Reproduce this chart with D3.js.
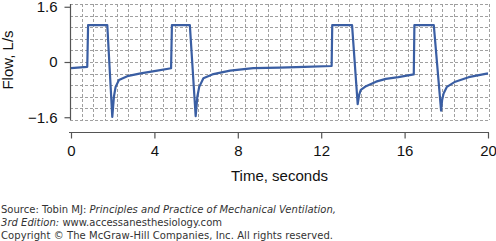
<!DOCTYPE html>
<html><head><meta charset="utf-8">
<script src="https://cdn.jsdelivr.net/npm/d3@7"></script>
<style>
html,body{margin:0;padding:0;background:#fff;}
svg{display:block;}
</style></head>
<body>
<svg id="c" width="496" height="241"></svg>
<script>
// Data (time in seconds, flow in L/s)
const timeS = [0, 0.78, 0.82, 1.74, 1.98, 2.06, 2.14, 2.3, 2.7, 3.34, 4.14, 4.8,
  4.84, 5.7, 5.98, 6.06, 6.15, 6.35, 6.83, 7.63, 8.74, 10.0, 11.2, 12.5,
  12.53, 13.48, 13.75, 13.82, 13.9, 14.15, 14.63, 15.1, 15.7, 16.44,
  16.47, 17.4, 17.75, 17.8, 17.87, 18.03, 18.43, 19.07, 20.0];
const flowLs = [-0.18, -0.14, 1.07, 1.07, -1.59, -1.0, -0.72, -0.52, -0.41, -0.33, -0.25, -0.18,
  1.07, 1.07, -1.57, -1.0, -0.72, -0.47, -0.35, -0.25, -0.18, -0.165, -0.14, -0.116,
  1.07, 1.07, -1.22, -0.95, -0.81, -0.70, -0.57, -0.49, -0.44, -0.36,
  1.07, 1.07, -1.41, -1.1, -0.91, -0.72, -0.57, -0.44, -0.33];
const xTicks = [0, 4, 8, 12, 16, 20];
const yTicks = [1.6, 0, -1.6];
const yLabel = "Flow, L/s";
const xLabel = "Time, seconds";
const footer = [
  [["Source: Tobin MJ: ", false], ["Principles and Practice of Mechanical Ventilation,", true]],
  [["3rd Edition:", true], [" www.accessanesthesiology.com", false]],
  [["Copyright © The McGraw-Hill Companies, Inc. All rights reserved.", false]]
];

const svg = d3.select("#c");
const x = d3.scaleLinear().domain([0, 20]).range([71, 488]);
const y = d3.scaleLinear().domain([-1.68, 1.68]).range([120, 4]);
const gx = d3.scaleLinear().domain([0, 36]).range([70, 489]);
const gy = d3.scaleLinear().domain([0, 10]).range([4, 120]);

// grid
const grid = svg.append("g").attr("stroke", "#a0a0a0").attr("stroke-width", 1)
  .attr("stroke-dasharray", "3,2").attr("shape-rendering", "crispEdges");
grid.selectAll("line.v").data(d3.range(1, 37)).join("line")
  .attr("x1", d => Math.round(gx(d)) + 0.5).attr("x2", d => Math.round(gx(d)) + 0.5)
  .attr("y1", gy(0)).attr("y2", gy(10));
grid.selectAll("line.h").data(d3.range(0, 11)).join("line")
  .attr("x1", gx(0)).attr("x2", gx(36))
  .attr("y1", d => Math.round(gy(d)) + 0.5).attr("y2", d => Math.round(gy(d)) + 0.5);

const font = "'Liberation Sans', Arial, Helvetica, sans-serif";

// y axis
const yAxis = svg.append("g").attr("transform", "translate(70.5,0)")
  .call(d3.axisLeft(y).tickValues(yTicks).tickSize(6).tickPadding(7).tickFormat(d => d === 0 ? "0" : d3.format(".1f")(d)));
yAxis.select(".domain").remove();
yAxis.append("line").attr("x1", 0).attr("x2", 0).attr("y1", gy(0)).attr("y2", gy(10))
  .attr("stroke", "#555").attr("stroke-width", 1.2);
yAxis.selectAll(".tick line").attr("stroke", "#555").attr("stroke-width", 1.2);
yAxis.selectAll(".tick text").attr("font-family", font).attr("font-size", 15).attr("fill", "#111");

// x axis
const xAxis = svg.append("g").attr("transform", "translate(0,132.5)")
  .call(d3.axisBottom(x).tickValues(xTicks).tickSize(6).tickPadding(7));
xAxis.select(".domain").remove();
xAxis.append("line").attr("x1", gx(0) - 1).attr("x2", gx(36)).attr("y1", 0).attr("y2", 0)
  .attr("stroke", "#555").attr("stroke-width", 1.2);
xAxis.selectAll(".tick line").attr("stroke", "#555").attr("stroke-width", 1.2);
xAxis.selectAll(".tick text").attr("font-family", font).attr("font-size", 15).attr("fill", "#111");

// labels
svg.append("text").attr("transform", "translate(13,60) rotate(-90)")
  .attr("text-anchor", "middle").attr("font-family", font).attr("font-size", 15)
  .attr("fill", "#111").text(yLabel);
svg.append("text").attr("x", (gx(0) + gx(36)) / 2).attr("y", 181)
  .attr("text-anchor", "middle").attr("font-family", font).attr("font-size", 15)
  .attr("fill", "#111").text(xLabel);

// line
const pts = timeS.map((t, i) => [t, flowLs[i]]);
svg.append("path").datum(pts)
  .attr("d", d3.line().x(d => x(d[0])).y(d => y(d[1])).curve(d3.curveLinear))
  .attr("fill", "none").attr("stroke", "#3a5ea3").attr("stroke-width", 2.2)
  .attr("stroke-linejoin", "round");

// footer
const fy = [213, 226, 238.5];
const fw = [336, 222, 333];
footer.forEach((parts, i) => {
  const t = svg.append("text").attr("x", 1).attr("y", fy[i])
    .attr("font-family", "'DejaVu Sans', Verdana, sans-serif").attr("font-size", 10).attr("fill", "#333");
  parts.forEach(p => t.append("tspan").attr("font-style", p[1] ? "italic" : "normal").text(p[0]));
  const n = t.node();
  const w = n.getComputedTextLength();
  const chars = parts.map(p => p[0]).join("").length;
  if (chars > 1) t.attr("letter-spacing", (fw[i] - 1 - w) / (chars - 1));
});
</script>
</body></html>
